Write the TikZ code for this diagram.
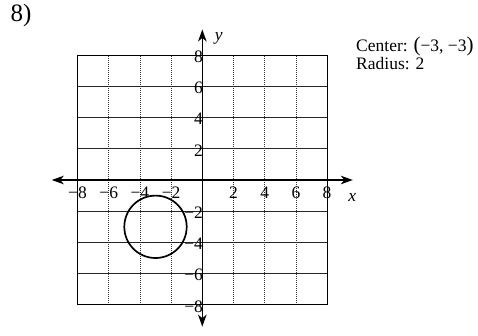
\documentclass[tikz,border=0pt]{standalone}
\usepackage{fontspec}
\setmainfont{Liberation Serif}
\usetikzlibrary{arrows.meta}
\tikzset{
  gridh/.style={line width=0.8pt, black!85},
  gridv/.style={line width=0.8pt, black!80, dash pattern=on 1.2pt off 0.8pt},
  gridframe/.style={line width=0.9pt, black},
  axis/.style={line width=1.6pt, -{Stealth[length=12pt,width=8.5pt,inset=3.5pt]}},
  tick/.style={inner sep=0pt, font=\fontsize{17.5}{18}\selectfont},
  txt/.style={inner sep=0pt, font=\fontsize{17.5}{19}\selectfont},
  curve/.style={line width=1.7pt, black}
}
\newcommand{\bigpar}[1]{{\fontsize{21}{21}\selectfont #1}}
\begin{document}
\begin{tikzpicture}[x=1pt,y=-1pt]
\useasboundingbox (0,0) rectangle (478,335);
\fill[white] (0,0) rectangle (478,335);
\node[inner sep=0pt, anchor=north west, font=\fontsize{25}{27}\selectfont] (num) at (10.5,4) {8)};
\node[txt, anchor=base west] (cen) at (356,51) {Center: \bigpar{(}−3, −3\bigpar{)}};
\node[txt, anchor=base west] (rad) at (356,69) {Radius: 2};
\coordinate (O) at (202.3,180);
\begin{scope}[shift={(O)}, x=15.6pt, y=15.6pt]
  \foreach \k in {-6,-4,-2,2,4,6} {
    \draw[gridh] (-8,\k) -- (8,\k);
    \draw[gridv] (\k,-8) -- (\k,8);
  }
  \draw[gridframe] (-8,-8) rectangle (8,8);
  \coordinate (xl) at (-9.65,0);
  \coordinate (xr) at (9.65,0);
  \coordinate (yt) at (0,9.65);
  \coordinate (yb) at (0,-9.4);
  \draw[axis] (O) -- (xl);
  \draw[axis] (O) -- (xr);
  \draw[axis] (O) -- (yt);
  \draw[axis] (O) -- (yb);
  \node[tick, font=\fontsize{17.5}{18}\selectfont\itshape, anchor=west] (ylab) at (0.8,9.05) {y};
  \node[tick, font=\fontsize{17.5}{18}\selectfont\itshape, anchor=west] (xlab) at (9.35,-1.1) {x};
  \foreach \k in {-8,-6,-4,-2} {
    \node[tick, anchor=north] (xt\k) at (\k,-0.45) {−\the\numexpr-\k\relax};
    \node[tick, anchor=east, yshift=-1.5pt] (yt\k) at (0.05,\k) {−\the\numexpr-\k\relax};
  }
  \foreach \k in {2,4,6,8} {
    \node[tick, anchor=north] (xp\k) at (\k,-0.45) {\k};
    \node[tick, anchor=east, yshift=-1.5pt] (yp\k) at (0.05,\k) {\k};
  }
  \node[circle, curve, draw, minimum size=62.4pt, inner sep=0pt] (c) at (-3,-3) {};
\end{scope}
\end{tikzpicture}
\end{document}
